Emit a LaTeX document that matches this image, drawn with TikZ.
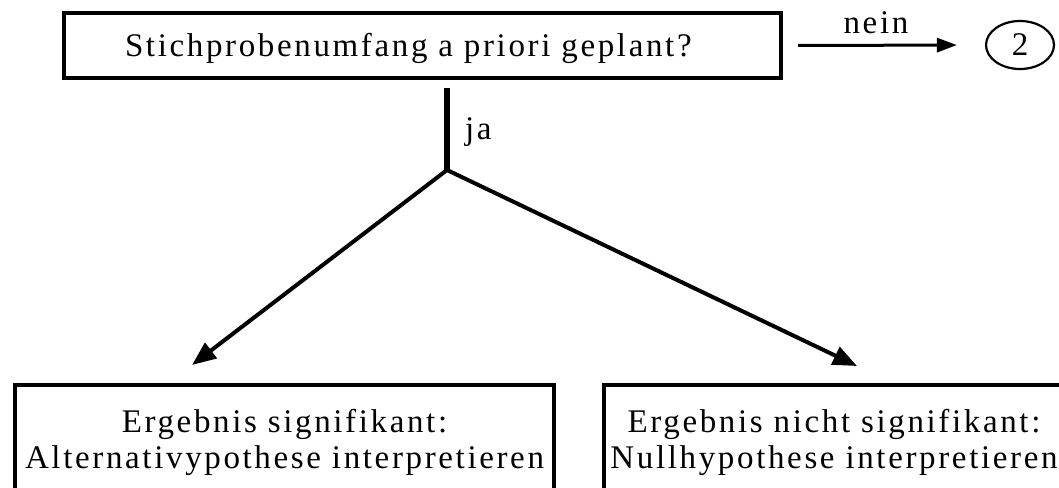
\documentclass[tikz,border=0pt]{standalone}
\usepackage{fontspec}
\setmainfont{Liberation Serif}[LetterSpace=8]
\usetikzlibrary{arrows.meta,shapes.geometric}

\begin{document}
\begin{tikzpicture}[x=1pt,y=-1pt,
  bigfont/.style={font=\fontsize{33pt}{36pt}\selectfont},
  box/.style={draw, line width=4pt, inner sep=0pt, bigfont},
  link/.style={line width=4pt},
  arrowto/.style={link, -{Triangle[length=24pt,width=19pt]}},
  stem/.style={line width=6pt},
  lbl/.style={bigfont, inner sep=0pt, anchor=base}]
\useasboundingbox (0,0) rectangle (1059,487);
\clip (0,0) rectangle (1059,487);

% question box
\node[box, inner xsep=61pt, minimum height=65pt, text height=22pt, text depth=0pt]
  (q) at (422.5,45.5) {\makebox[595pt][l]{Stichprobenumfang a priori geplant?}};

% continuation marker
\node[draw, ellipse, line width=2.2pt, minimum width=68pt, minimum height=48pt,
  inner sep=0pt, bigfont] (two) at (1020,45) {2};
\draw[line width=3pt, -{Triangle[length=20pt,width=14pt]}, shorten <=15pt, shorten >=28pt]
  (q.east) -- (two.west) node[lbl, midway, yshift=12pt, xshift=-8pt] (nein) {nein};

% branching
\coordinate (j) at (447,170);
\draw[stem] ([yshift=-8pt]j |- q.south) -- (j);
\node[lbl, anchor=base west] (ja) at (465,139) {ja};

% outcome boxes
\node[box, align=center, minimum width=539pt, minimum height=115pt]
  (a) at (284.5,442.6) {Ergebnis signifikant:\\Alternativypothese interpretieren};
\node[box, align=center, minimum width=460pt, minimum height=115pt]
  (b) at (834,442.6) {Ergebnis nicht signifikant:\\Nullhypothese interpretieren};

\coordinate (ta) at (192,365);
\coordinate (tb) at (857,366);
\draw[arrowto] (j) -- (ta);
\draw[arrowto] (j) -- (tb);
\end{tikzpicture}
\end{document}
